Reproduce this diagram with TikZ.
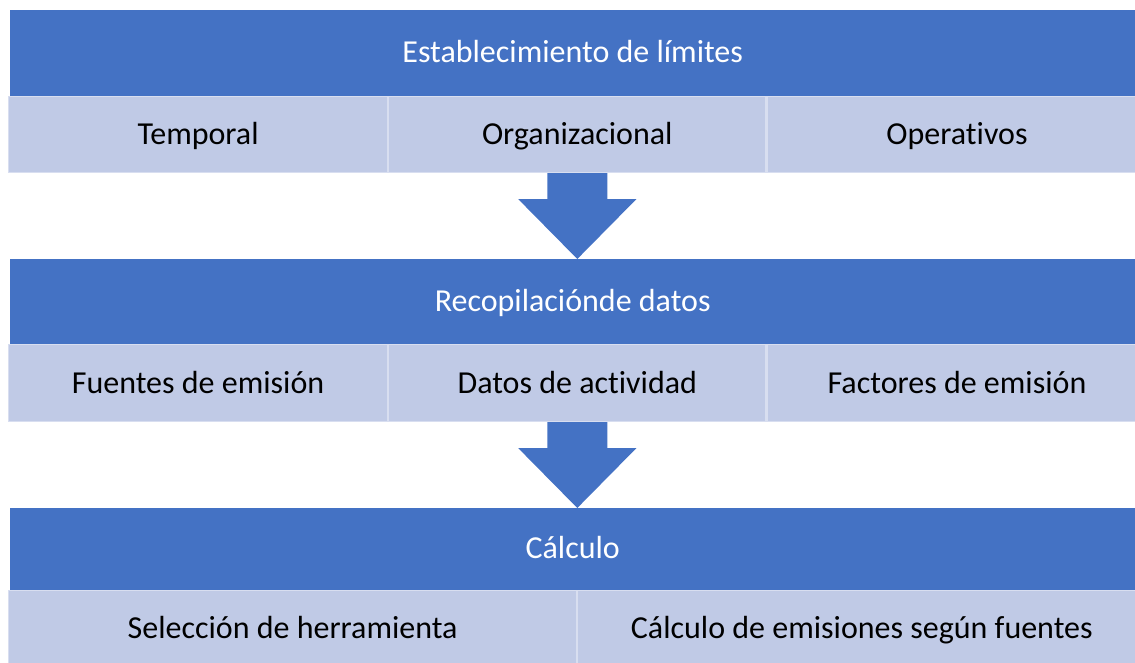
\documentclass[tikz,border=0pt]{standalone}
\usepackage{fontspec}
\setmainfont{Carlito}[Ligatures=NoCommon]
\usetikzlibrary{positioning,calc}
\definecolor{hdrblue}{RGB}{68,114,196}
\definecolor{cellblue}{RGB}{192,202,230}
\definecolor{cellline}{RGB}{216,222,240}

\begin{document}
\begin{tikzpicture}[x=1pt,y=-1pt,
  hdr/.style={fill=hdrblue,text=white,anchor=north west,inner sep=0pt,
    text height=26pt,text depth=7pt,minimum width=1125pt,font=\fontsize{32}{38}\selectfont},
  cell/.style={fill=cellblue,draw=cellline,line width=1.2pt,anchor=north west,
    inner sep=0pt,text height=27pt,text depth=7pt,font=\fontsize{32}{38}\selectfont},
  bigarrow/.style={fill=hdrblue}]
\useasboundingbox (0,0) rectangle (1135,662);
% stage 1
\node[hdr,minimum height=86pt] (lim) at (10,10) {Establecimiento de límites};
\node[cell,minimum width=379pt,minimum height=76pt] (temp) at (8,96) {Temporal};
\node[cell,minimum width=377pt,minimum height=76pt] (org) at (temp.north east) {Organizacional};
\node[cell,minimum width=380pt,minimum height=76pt] (oper) at (org.north east) {Operativos};
% stage 2
\node[hdr,minimum height=85pt] (rec) at (10,259) {Recopilaciónde datos};
\node[cell,minimum width=379pt,minimum height=77pt] (fue) at (8,344) {Fuentes de emisión};
\node[cell,minimum width=377pt,minimum height=77pt] (act) at (fue.north east) {Datos de actividad};
\node[cell,minimum width=380pt,minimum height=77pt] (fac) at (act.north east) {Factores de emisión};
% stage 3
\node[hdr,minimum height=82pt] (calc) at (10,508) {Cálculo};
\node[cell,minimum width=568pt,minimum height=76pt] (sel) at (8,590) {Selección de herramienta};
\node[cell,minimum width=568pt,minimum height=76pt] (emi) at (sel.north east) {Cálculo de emisiones según fuentes};
% arrows
\fill[bigarrow] ($(org.south)+(-30,0)$) -- ($(org.south)+(-30,26)$) -- ($(org.south)+(-59,26)$)
  -- (org.south |- rec.north) -- ($(org.south)+(59,26)$) -- ($(org.south)+(30,26)$)
  -- ($(org.south)+(30,0)$) -- cycle;
\fill[bigarrow] ($(act.south)+(-30,0)$) -- ($(act.south)+(-30,26)$) -- ($(act.south)+(-59,26)$)
  -- (act.south |- calc.north) -- ($(act.south)+(59,26)$) -- ($(act.south)+(30,26)$)
  -- ($(act.south)+(30,0)$) -- cycle;
\end{tikzpicture}
\end{document}
